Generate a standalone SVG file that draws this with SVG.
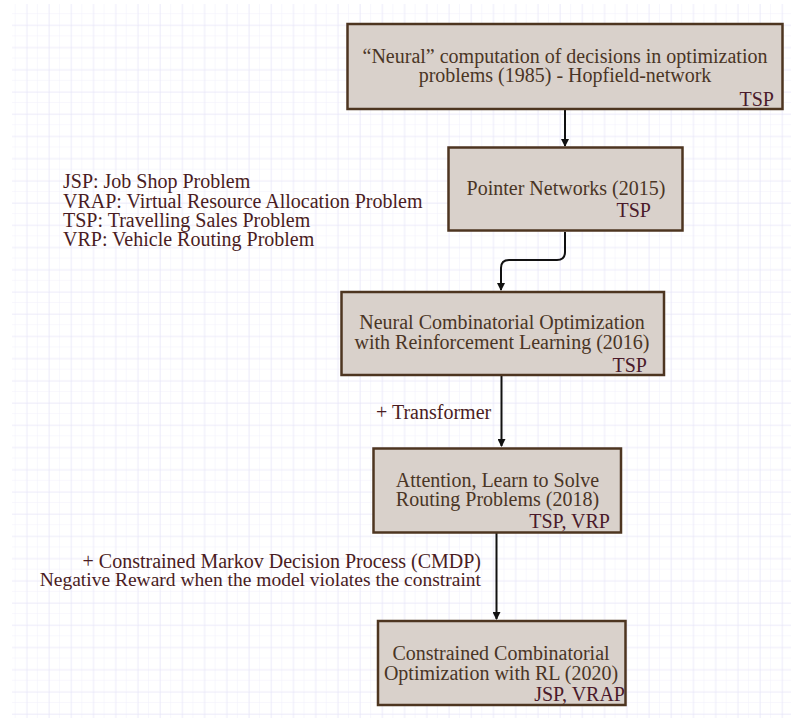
<svg xmlns="http://www.w3.org/2000/svg" width="804" height="718" viewBox="0 0 804 718">
<style>
.box{fill:#d9d1cb;stroke:#4d3520;stroke-width:2.5}
.t{font-family:"Liberation Serif","Times New Roman",serif;font-size:20px;fill:#4a3525;text-anchor:middle}
.tag{font-family:"Liberation Serif","Times New Roman",serif;font-size:20px;fill:#4a1a2a;text-anchor:end}
.lg{font-family:"Liberation Serif","Times New Roman",serif;font-size:20px;fill:#4a1c22}
.conn{fill:none;stroke:#111;stroke-width:2}
</style>
<defs>
<pattern id="minor" x="4.5" y="3" width="11.11" height="11.11" patternUnits="userSpaceOnUse">
<path d="M11.11 0V11.11M0 11.11H11.11" fill="none" stroke="#f1f0fb" stroke-width="1"/>
</pattern>
<pattern id="major" x="4.5" y="3" width="22.22" height="22.22" patternUnits="userSpaceOnUse">
<path d="M0 0V22.22M0 0H22.22" fill="none" stroke="#e5e3f8" stroke-width="1"/>
</pattern>
<marker id="ah" markerWidth="8" markerHeight="8" refX="7" refY="4" orient="auto" markerUnits="userSpaceOnUse">
<path d="M0,0 L8,4 L0,8 z" fill="#111"/>
</marker>
</defs>
<rect width="804" height="718" fill="#fff"/>
<rect x="12" y="4" width="779" height="714" fill="url(#minor)"/>
<rect x="12" y="4" width="779" height="714" fill="url(#major)"/>

<g id="legend">
<text class="lg" x="63" y="188">JSP: Job Shop Problem</text>
<text class="lg" x="63" y="207.5">VRAP: Virtual Resource Allocation Problem</text>
<text class="lg" x="63" y="227">TSP: Travelling Sales Problem</text>
<text class="lg" x="63" y="246">VRP: Vehicle Routing Problem</text>
</g>

<g id="connectors">
<path class="conn" d="M565,110 V146" marker-end="url(#ah)"/>
<path class="conn" d="M565,232 V252 Q565,260 557,260 H509 Q501,260 501,268 V290" marker-end="url(#ah)"/>
<path class="conn" d="M501.5,376 V446" marker-end="url(#ah)"/>
<path class="conn" d="M496.5,533 V619" marker-end="url(#ah)"/>
<text class="lg" x="376" y="419">+ Transformer</text>
<text class="lg" x="481" y="568" text-anchor="end">+ Constrained Markov Decision Process (CMDP)</text>
<text class="lg" x="481" y="586" text-anchor="end" style="font-size:19.5px">Negative Reward when the model violates the constraint</text>
</g>

<g id="n1">
<rect class="box" x="347.5" y="24" width="435" height="85"/>
<text class="t" x="565" y="63">“Neural” computation of decisions in optimization</text>
<text class="t" x="565" y="82">problems (1985) - Hopfield-network</text>
<text class="tag" x="774" y="106">TSP</text>
</g>

<g id="n2">
<rect class="box" x="448.5" y="147.5" width="234" height="83"/>
<text class="t" x="566" y="195">Pointer Networks (2015)</text>
<text class="tag" x="651" y="217">TSP</text>
</g>

<g id="n3">
<rect class="box" x="341.5" y="292" width="322.5" height="83"/>
<text class="t" x="502" y="329">Neural Combinatorial Optimization</text>
<text class="t" x="502" y="349">with Reinforcement Learning (2016)</text>
<text class="tag" x="647" y="371.5">TSP</text>
</g>

<g id="n4">
<rect class="box" x="373.5" y="448.5" width="247.5" height="84"/>
<text class="t" x="497.5" y="487">Attention, Learn to Solve</text>
<text class="t" x="497.5" y="506">Routing Problems (2018)</text>
<text class="tag" x="610" y="528">TSP, VRP</text>
</g>

<g id="n5">
<rect class="box" x="378" y="621" width="247.5" height="84"/>
<text class="t" x="501" y="659.5">Constrained Combinatorial</text>
<text class="t" x="501" y="679.5">Optimization with RL (2020)</text>
<text class="tag" x="625" y="700.5">JSP, VRAP</text>
</g>
</svg>
